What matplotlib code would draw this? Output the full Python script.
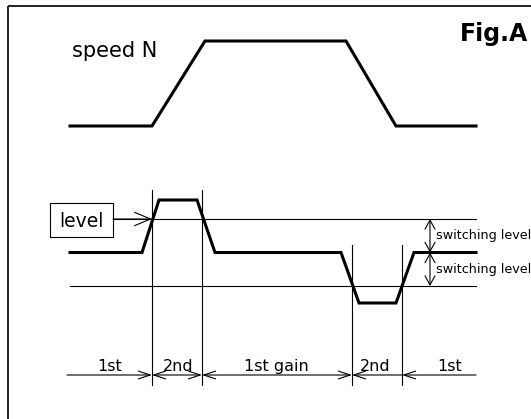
import matplotlib
matplotlib.use('Agg')
import matplotlib.pyplot as plt
from matplotlib.patches import Rectangle

# diagram values (pixel-like units, y grows downward)
speed_x = [70, 152, 205, 346, 396, 476]
speed_y = [126, 126, 41, 41, 126, 126]

signal_x = [70, 142, 159, 197, 215, 341, 359, 396, 414, 476]
signal_y = [252.5, 252.5, 200, 200, 252.5, 252.5, 303, 303, 252.5, 252.5]

level_upper = 219
level_mid = 252.5
level_lower = 286

boundaries = [152, 202, 352, 402]
boundary_tops = [190, 190, 245, 245]
boundary_bottom = 385

phase_edges = [67, 152, 202, 352, 402, 476]
phase_labels = ['1st', '2nd', '1st gain', '2nd', '1st']
phase_centers = [110, 178, 276, 375, 450]
phase_arrows = ['->', '<->', '<->', '<-', '<-']
axis_y = 375

fig = plt.figure(figsize=(5.31, 4.19), dpi=100)
ax = fig.add_axes([0, 0, 1, 1])
ax.set_xlim(0, 531)
ax.set_ylim(419, 0)
ax.axis('off')

# frame
ax.add_patch(Rectangle((8, 6), 540, 430, fill=False, ec='#222222', lw=1.4))

thin = 0.8
thick = 2.2

# speed curve
ax.plot(speed_x, speed_y, color='black', lw=thick, solid_joinstyle='miter')
ax.text(72, 57, 'speed N', fontsize=15, va='baseline', ha='left')
ax.text(528, 40.5, 'Fig.A', fontsize=17, fontweight='bold', va='baseline', ha='right')

# reference lines
ax.plot([113, 476], [level_upper, level_upper], color='black', lw=thin)
ax.plot([70, 476], [level_lower, level_lower], color='black', lw=thin)
ax.plot(signal_x, signal_y, color='black', lw=thick, solid_joinstyle='miter')

# level box and arrow
ax.add_patch(Rectangle((50, 203), 63, 34, fill=False, ec='black', lw=thin))
ax.text(81.5, 227, 'level', fontsize=13.5, ha='center', va='baseline')
ax.annotate('', xy=(152, level_upper), xytext=(113, level_upper),
            arrowprops=dict(arrowstyle='->,head_length=1.15,head_width=0.48',
                            lw=thin, color='black', shrinkA=0, shrinkB=0))

# switching level arrows
for y0, y1 in [(level_upper, level_mid), (level_mid, level_lower)]:
    ax.annotate('', xy=(430, y0), xytext=(430, y1),
                arrowprops=dict(arrowstyle='<->,head_length=0.65,head_width=0.36',
                                lw=thin, color='black', shrinkA=0, shrinkB=0))
    ax.text(436, (y0 + y1) / 2, 'switching level', fontsize=9.2, ha='left', va='center')

# boundary verticals
for bx, bt in zip(boundaries, boundary_tops):
    ax.plot([bx, bx], [bt, boundary_bottom], color='black', lw=thin)

# phase dimension arrows
for i, lab in enumerate(phase_labels):
    ax.annotate('', xy=(phase_edges[i + 1], axis_y), xytext=(phase_edges[i], axis_y),
                arrowprops=dict(arrowstyle=phase_arrows[i] + ',head_length=0.85,head_width=0.28',
                                lw=thin, color='black', shrinkA=0, shrinkB=0))
    ax.text(phase_centers[i], 370.5, lab, fontsize=11.5, ha='center', va='baseline')

fig.savefig('out.png', dpi=100)
